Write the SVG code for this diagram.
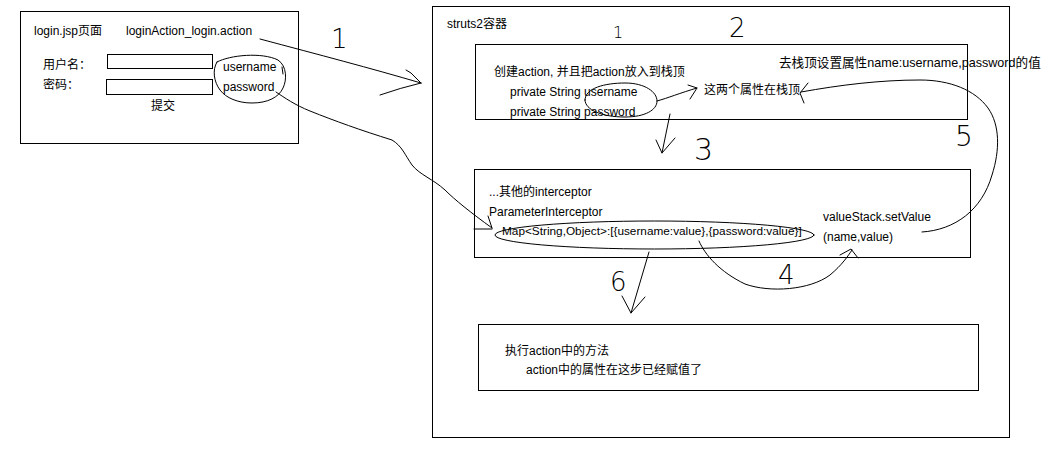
<svg xmlns="http://www.w3.org/2000/svg" width="1053" height="456" viewBox="0 0 1053 456">
<style>
.t{font-family:"Liberation Sans","Noto Sans CJK SC",sans-serif;font-size:12px;fill:#000}
.box{fill:none;stroke:#000;stroke-width:1}
.ln{fill:none;stroke:#000;stroke-width:1;stroke-linecap:round;stroke-linejoin:round}
.hw{font-family:"DejaVu Sans","Liberation Sans",sans-serif;font-weight:200;fill:#000}
</style>
<rect width="1053" height="456" fill="#fff"/>
<g id="login-page">
<rect class="box" x="20.5" y="11.5" width="278" height="132"/>
<text class="t" x="34" y="35">login.jsp页面</text>
<text class="t" x="126" y="35">loginAction_login.action</text>
<text class="t" x="43" y="69">用户名：</text>
<rect class="box" x="107.5" y="54.5" width="105" height="14"/>
<text class="t" x="43" y="89">密码：</text>
<rect class="box" x="106.5" y="79.5" width="106" height="15"/>
<text class="t" x="151" y="110">提交</text>
<text class="t" x="223" y="71">username</text>
<text class="t" x="223" y="91">password</text>
</g>
<g id="struts2-container">
<rect class="box" x="432.5" y="6.5" width="577" height="431"/>
<text class="t" x="447" y="28">struts2容器</text>
</g>
<g id="create-action">
<rect class="box" x="475.5" y="44.5" width="492" height="75"/>
<text class="t" x="494" y="76">创建action, 并且把action放入到栈顶</text>
<text class="t" x="510" y="96">private String username</text>
<text class="t" x="510" y="116">private String password</text>
<text class="t" x="704" y="94">这两个属性在栈顶</text>
<text class="t" x="779" y="67" style="font-size:12.6px">去栈顶设置属性name:username,password的值</text>
</g>
<g id="interceptors">
<rect class="box" x="474.5" y="169.5" width="496" height="88"/>
<text class="t" x="489" y="196">...其他的interceptor</text>
<text class="t" x="489" y="216">ParameterInterceptor</text>
<text class="t" x="502" y="235" style="font-size:11.8px">Map&lt;String,Object&gt;:[{username:value},{password:value}]</text>
<text class="t" x="823" y="221">valueStack.setValue</text>
<text class="t" x="823" y="241">(name,value)</text>
</g>
<g id="execute-action">
<rect class="box" x="478.5" y="324.5" width="500" height="66"/>
<text class="t" x="505" y="355">执行action中的方法</text>
<text class="t" x="526" y="374">action中的属性在这步已经赋值了</text>
</g>
<g id="connectors">
<path class="ln" d="M217,62 C230,55 262,52 278,60 C287,66 287,80 283,88 C279,97 268,103 252,103 C238,103 226,98 220,90 C214,82 212,70 217,62 Z"/>
<path class="ln" d="M282,67 L283,74"/>
<path class="ln" d="M260,39 C320,55 370,68 421,83"/>
<path class="ln" d="M406,70 L411,73 L421,83 M421,83 Q400,88 380,95"/>
<path class="ln" d="M276,92 C285,98 295,105 310,111 C335,121 360,130 392,140 C402,146 405,155 412,165 C420,175 433,179 445,190 C455,200 470,212 492,228"/>
<path class="ln" d="M474,229 L492,229 M488,216 L492,228"/>
<path class="ln" d="M585,100 C585,88 605,83 625,83 C645,83 657,92 657,101 C657,110 645,117 625,117 C602,117 585,110 585,100 Z"/>
<path class="ln" d="M657,101 C668,98 680,93 697,88"/>
<path class="ln" d="M688,85 L697,88 L690,99"/>
<path class="ln" d="M670,114 L662,153 M656,140 L662,153 L675,138"/>
<path class="ln" d="M922,232 C955,230 982,210 992,175 C1000,150 1000,125 988,108 C975,90 950,80 920,80 C880,80 840,85 801,92"/>
<path class="ln" d="M808,83 L800,93 L804,103"/>
<ellipse class="ln" cx="654.5" cy="235" rx="159.5" ry="14"/>
<path class="ln" d="M649,252 L631,313 M622,296 L631,313 L645,297"/>
<path class="ln" d="M699,241 C705,255 720,272 745,284 C770,293 810,290 830,275 C842,265 848,256 852,250"/>
<path class="ln" d="M840,255 L851,249 L858,258"/>
<text class="hw" x="331" y="48" style="font-size:26px">1</text>
<text class="hw" x="613" y="38" style="font-size:16px">1</text>
<text class="hw" x="729" y="37" style="font-size:26px">2</text>
<text class="hw" x="694" y="160" style="font-size:30px">3</text>
<text class="hw" x="778" y="284" style="font-size:26px">4</text>
<text class="hw" x="955" y="146" style="font-size:28px">5</text>
<text class="hw" x="610" y="291" style="font-size:26px">6</text>
</g>
</svg>
